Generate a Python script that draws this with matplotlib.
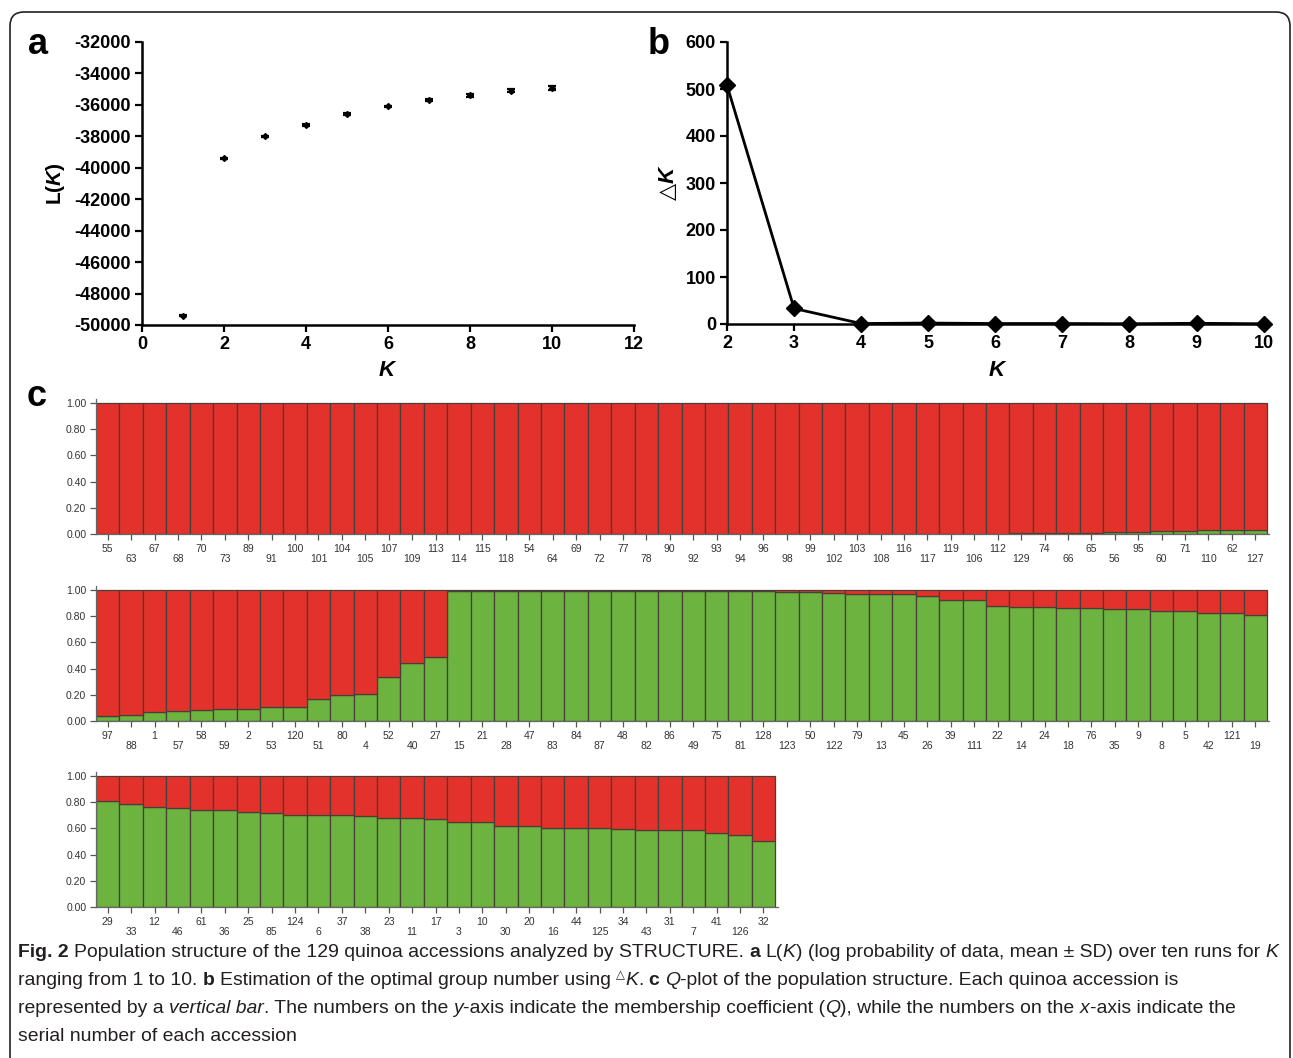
import numpy as np
import matplotlib
matplotlib.use('Agg')
import matplotlib.pyplot as plt
from matplotlib.patches import FancyBboxPatch
from matplotlib.transforms import IdentityTransform

W, H = 1293, 1058

# panel a: L(K) mean and SD over ten runs
k_vals = [1, 2, 3, 4, 5, 6, 7, 8, 9, 10]
lk_mean = [-49400, -39400, -38000, -37300, -36600, -36100, -35700, -35400, -35100, -34950]
lk_sd = [40, 50, 40, 70, 60, 60, 60, 80, 80, 130]
a_yticks = [-32000, -34000, -36000, -38000, -40000, -42000, -44000, -46000, -48000, -50000]
a_xticks = [0, 2, 4, 6, 8, 10, 12]

# panel b: delta K
dk_k = [2, 3, 4, 5, 6, 7, 8, 9, 10]
dk_vals = [508, 33, 1, 2, 1, 1, 0.5, 1.5, 0.5]
b_yticks = [0, 100, 200, 300, 400, 500, 600]

# panel c: accession order and membership (green cluster share)
row1_ids = [55, 63, 67, 68, 70, 73, 89, 91, 100, 101, 104, 105, 107, 109, 113, 114, 115, 118,
            54, 64, 69, 72, 77, 78, 90, 92, 93, 94, 96, 98, 99, 102, 103, 108, 116, 117, 119,
            106, 112, 129, 74, 66, 65, 56, 95, 60, 71, 110, 62, 127]
row1_q = [0.0] * 39 + [0.008, 0.008, 0.008, 0.008, 0.015, 0.015, 0.025, 0.025, 0.032, 0.032, 0.032]

row2_ids = [97, 88, 1, 57, 58, 59, 2, 53, 120, 51, 80, 4, 52, 40, 27, 15, 21, 28, 47, 83, 84,
            87, 48, 82, 86, 49, 75, 81, 128, 123, 50, 122, 79, 13, 45, 26, 39, 111, 22, 14, 24,
            18, 76, 35, 9, 8, 5, 42, 121, 19]
row2_q = [0.038, 0.046, 0.071, 0.079, 0.087, 0.092, 0.092, 0.110, 0.110, 0.171, 0.199, 0.209,
          0.337, 0.444, 0.485, 0.995, 0.995, 0.995, 0.995, 0.995, 0.995, 0.995, 0.995, 0.995,
          0.995, 0.995, 0.995, 0.994, 0.993, 0.987, 0.985, 0.980, 0.970, 0.970, 0.967, 0.957,
          0.926, 0.923, 0.880, 0.872, 0.872, 0.865, 0.865, 0.855, 0.852, 0.842, 0.837, 0.827,
          0.821, 0.809]

row3_ids = [29, 33, 12, 46, 61, 36, 25, 85, 124, 6, 37, 38, 23, 11, 17, 3, 10, 30, 20, 16, 44,
            125, 34, 43, 31, 7, 41, 126, 32]
row3_q = [0.808, 0.787, 0.765, 0.757, 0.742, 0.742, 0.722, 0.714, 0.706, 0.701, 0.701, 0.691,
          0.676, 0.676, 0.671, 0.649, 0.649, 0.618, 0.618, 0.606, 0.606, 0.606, 0.593, 0.585,
          0.585, 0.585, 0.565, 0.550, 0.506]
c_yticks = [0.0, 0.2, 0.4, 0.6, 0.8, 1.0]

RED = '#e3322b'
GREEN = '#6db33f'
EDGE = '#4a3f38'

plt.rcParams['font.family'] = ['Liberation Sans', 'DejaVu Sans']
plt.rcParams['axes.unicode_minus'] = False
plt.rcParams['mathtext.fontset'] = 'custom'
plt.rcParams['mathtext.rm'] = 'DejaVu Sans'
plt.rcParams['mathtext.bf'] = 'Liberation Sans:bold'
plt.rcParams['mathtext.it'] = 'Liberation Sans:bold:italic'

fig = plt.figure(figsize=(W / 100, H / 100), dpi=100, facecolor='white')


def px_axes(left, top, right, bottom):
    return fig.add_axes([left / W, 1 - bottom / H, (right - left) / W, (bottom - top) / H])


def bold_ticks(ax, size):
    ax.tick_params(direction='out', length=5, width=1.6, labelsize=size, pad=3, colors='black')
    for lab in ax.get_xticklabels() + ax.get_yticklabels():
        lab.set_fontweight('bold')
    for s in ['top', 'right']:
        ax.spines[s].set_visible(False)
    for s in ['left', 'bottom']:
        ax.spines[s].set_linewidth(1.8)


# ---- panel a
ax_a = px_axes(142, 42, 634, 325)
ax_a.errorbar(k_vals, lk_mean, yerr=lk_sd, fmt='D', color='black', markersize=3,
              capsize=3, elinewidth=1.3, capthick=1.6)
ax_a.set_xlim(0, 12)
ax_a.set_ylim(-50000, -32000)
ax_a.set_xticks(a_xticks)
ax_a.set_yticks(a_yticks)
ax_a.set_yticklabels([str(v) for v in a_yticks])
bold_ticks(ax_a, 13)
ax_a.set_xlabel(r'$\mathit{K}$', fontsize=16)
ax_a.xaxis.set_label_coords(0.5, -0.125)
ax_a.set_ylabel(r'$\mathbf{L(}\mathit{K}\mathbf{)}$', fontsize=15)
ax_a.yaxis.set_label_coords(-0.152, 0.5)

# ---- panel b
ax_b = px_axes(727, 42, 1269, 324)
ax_b.plot(dk_k, dk_vals, color='black', linewidth=2, marker='D', markersize=8, clip_on=False)
ax_b.set_xlim(2, 10.08)
ax_b.set_ylim(0, 600)
ax_b.set_xticks(dk_k)
ax_b.set_yticks(b_yticks)
bold_ticks(ax_b, 13)
ax_b.set_xlabel(r'$\mathit{K}$', fontsize=16)
ax_b.xaxis.set_label_coords(0.5, -0.128)
ax_b.set_ylabel('$\\mathrm{\u25b3}\\mathit{K}$', fontsize=16)
ax_b.yaxis.set_label_coords(-0.088, 0.5)

# ---- panel c
bar_px = (1267 - 96) / 50


def q_plot(top, ids, q):
    n = len(ids)
    right = 96 + (n + 0.1) * bar_px
    bottom = top + 131
    ax = px_axes(96, top - 0.03 * 131, right, bottom)
    x = np.arange(n)
    q = np.array(q)
    ax.bar(x, q, width=1.0, color=GREEN, edgecolor=EDGE, linewidth=0.9)
    ax.bar(x, 1 - q, bottom=q, width=1.0, color=RED, edgecolor=EDGE, linewidth=0.9)
    ax.set_xlim(-0.5, n - 0.4)
    ax.set_ylim(0, 1.03)
    ax.set_yticks(c_yticks)
    ax.set_yticklabels(['%.2f' % v for v in c_yticks])
    ax.set_xticks(x)
    ax.set_xticklabels([str(v) if i % 2 == 0 else '\n' + str(v) for i, v in enumerate(ids)],
                       linespacing=1.05)
    ax.tick_params(direction='out', length=4, width=0.9, color='#555555', labelcolor='#333333',
                   labelsize=7.5, pad=3)
    for s in ['top', 'right']:
        ax.spines[s].set_visible(False)
    for s in ['left', 'bottom']:
        ax.spines[s].set_color('#666666')
        ax.spines[s].set_linewidth(0.9)
    return ax


q_plot(403, row1_ids, row1_q)
q_plot(590, row2_ids, row2_q)
q_plot(776, row3_ids, row3_q)

# panel letters
for letter, x, y in [('a', 38, 44), ('b', 659, 44), ('c', 37, 397)]:
    fig.text(x / W, 1 - y / H, letter, fontsize=26, fontweight='bold', ha='center',
             va='center', family=['Liberation Sans', 'DejaVu Sans'])

# ---- caption
CAP_FONT = ['Liberation Sans', 'DejaVu Sans']
cap_lines = [
    [("Fig. 2", 'b'), (" Population structure of the 129 quinoa accessions analyzed by STRUCTURE. ", 'n'),
     ("a", 'b'), (" L(", 'n'), ("K", 'i'), (") (log probability of data, mean \u00b1 SD) over ten runs for ", 'n'),
     ("K", 'i')],
    [("ranging from 1 to 10. ", 'n'), ("b", 'b'), (" Estimation of the optimal group number using ", 'n'),
     ("\u25b3", 't'), ("K", 'i'), (". ", 'n'), ("c", 'b'), (" ", 'n'), ("Q", 'i'),
     ("-plot of the population structure. Each quinoa accession is", 'n')],
    [("represented by a ", 'n'), ("vertical bar", 'i'), (". The numbers on the ", 'n'), ("y", 'i'),
     ("-axis indicate the membership coefficient (", 'n'), ("Q", 'i'),
     ("), while the numbers on the ", 'n'), ("x", 'i'), ("-axis indicate the", 'n')],
    [("serial number of each accession", 'n')],
]
renderer = fig.canvas.get_renderer()


def text_w(s, size, style):
    kw = dict(fontsize=size, family=CAP_FONT)
    if style == 'b':
        kw['fontweight'] = 'bold'
    if style == 'i':
        kw['fontstyle'] = 'italic'
    if style == 't':
        kw['fontsize'] = size * 0.6
    t = fig.text(0, 0, s, **kw)
    w = t.get_window_extent(renderer).width
    t.remove()
    return w, kw


def space_w(size):
    return text_w('x x', size, 'n')[0] - text_w('xx', size, 'n')[0]


def draw_line(parts, x0, y0, size, draw=True):
    x = x0
    sp = space_w(size)
    for s, style in parts:
        core = s.strip(' ')
        if not core:
            x += len(s) * sp
            continue
        lead = len(s) - len(s.lstrip(' '))
        trail = len(s) - len(s.rstrip(' '))
        x += lead * sp
        w, kw = text_w(core, size, style)
        if draw:
            yy = y0 - size * 0.45 if style == 't' else y0
            fig.text(x / W, 1 - yy / H, core, ha='left', va='baseline', color='#231f20', **kw)
        x += w + trail * sp
    return x


w10 = draw_line(cap_lines[0], 0, 0, 10, draw=False)
cap_size = 10 * (1276 - 18) / w10
for i, parts in enumerate(cap_lines):
    draw_line(parts, 18, 957 + i * 28, cap_size)

# outer rounded frame
frame = FancyBboxPatch((10, -30), 1280, H - 12 + 30, boxstyle='round,pad=0,rounding_size=14',
                       linewidth=1.2, edgecolor='#222222', facecolor='none',
                       transform=IdentityTransform())
fig.add_artist(frame)

fig.savefig('out.png', dpi=100, facecolor='white')
